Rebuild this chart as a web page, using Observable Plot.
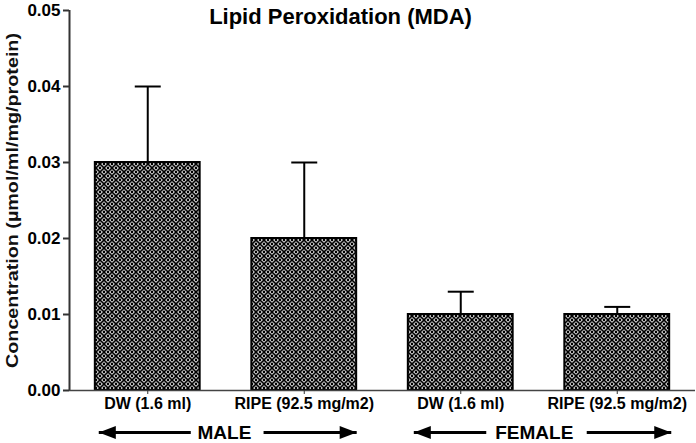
<!DOCTYPE html>
<html>
<head>
<meta charset="utf-8">
<script src="https://cdn.jsdelivr.net/npm/d3@7"></script>
<script src="https://cdn.jsdelivr.net/npm/@observablehq/plot@0.6"></script>
<style>
  html, body { margin: 0; padding: 0; background: #fff; }
  #chart svg { display: block; }
</style>
</head>
<body>
<div id="chart"></div>
<script>
// ---- data ----
const title = "Lipid Peroxidation (MDA)";
const yLabel = "Concentration (µmol/ml/mg/protein)";
const categories = ["M-DW", "M-RIPE", "F-DW", "F-RIPE"];
const tickLabels = ["DW (1.6 ml)", "RIPE (92.5 mg/m2)", "DW (1.6 ml)", "RIPE (92.5 mg/m2)"];
const means = [0.03, 0.02, 0.01, 0.01];
const errorUpper = [0.01, 0.01, 0.003, 0.001];
const yTicks = [0, 0.01, 0.02, 0.03, 0.04, 0.05];
const groups = ["MALE", "FEMALE"];
const groupCenters = [0.49, 2.47];          // in category-index units
const arrowTails = [0.275, 0.74, 2.163, 2.805];
const arrowHeads = [-0.313, 1.335, 1.70, 3.345];

// ---- tables built from the arrays ----
const bars = categories.map((c, i) => ({i, cat: c, label: tickLabels[i], mean: means[i], top: means[i] + errorUpper[i]}));
const barHalf = 0.335, capHalf = 0.083;
const groupRows = groups.map((g, k) => ({g, x: groupCenters[k]}));
const arrows = arrowTails.map((t, k) => ({tail: t, head: arrowHeads[k], dir: arrowHeads[k] > t ? 0 : 180}));

const arrowHead = {
  draw(ctx, size) {
    const s = Math.sqrt(size);
    ctx.moveTo(0, 0);
    ctx.lineTo(-s * 1.6, -s * 0.6);
    ctx.lineTo(-s * 1.6, s * 0.6);
    ctx.closePath();
  }
};

const chart = Plot.plot({
  width: 696,
  height: 443,
  marginLeft: 69,
  marginRight: 1,
  marginTop: 10,
  marginBottom: 53,
  style: {fontFamily: "'Liberation Sans', Arial, sans-serif", color: "#000", background: "#fff"},
  x: {domain: [-0.5, 3.5], axis: null},
  y: {domain: [0, 0.05], axis: null},
  marks: [
    // bars
    Plot.rect(bars, {x1: d => d.i - barHalf, x2: d => d.i + barHalf, y1: 0, y2: "mean",
      fill: "url(#hatch)", stroke: "#000", strokeWidth: 2}),
    // error bars (upper)
    Plot.link(bars, {x1: "i", x2: "i", y1: "mean", y2: "top", stroke: "#000", strokeWidth: 2}),
    Plot.link(bars, {x1: d => d.i - capHalf, x2: d => d.i + capHalf, y1: "top", y2: "top", stroke: "#000", strokeWidth: 2}),
    // axes lines
    Plot.ruleX([-0.5], {y1: 0, y2: 0.05, stroke: "#333", strokeWidth: 2}),
    Plot.ruleY([0], {stroke: "#444", strokeWidth: 1.5}),
    Plot.axisY({ticks: yTicks, tickFormat: ".2f", tickSize: 6, tickPadding: 3, label: null,
      fontSize: 17, fontWeight: "bold", strokeWidth: 2, stroke: "#333"}),
    Plot.axisX({ticks: [0, 1, 2, 3], tickFormat: i => tickLabels[i], tickSize: 4, tickPadding: 3,
      label: null, fontSize: 16, fontWeight: "bold", stroke: "#333"}),
    // y label
    Plot.text([yLabel], {frameAnchor: "left", textAnchor: "middle", rotate: -90, dx: -57, dy: 0,
      fontSize: 16, fontWeight: "bold", fill: "#111", className: "ylab"}),
    // title
    Plot.text([title], {frameAnchor: "top", lineAnchor: "middle", dx: -42, dy: 6, fontSize: 22, fontWeight: "bold"}),
    // group arrows
    Plot.link(arrows, {x1: "tail", x2: "head", y1: 0, y2: 0, dy: 42, stroke: "#000", strokeWidth: 3}),
    Plot.dot(arrows, {x: "head", y: 0, dy: 42, symbol: arrowHead, r: 6, rotate: "dir", fill: "#000", stroke: "none"}),
    Plot.text(groupRows, {x: "x", y: 0, dy: 42, text: "g", fontSize: 19, fontWeight: "bold"})
  ]
});

// pattern definition for the cross-hatched bar fill
const svg = d3.select(chart);
const defs = svg.insert("defs", ":first-child");
const P = 8;
const pat = defs.append("pattern").attr("id", "hatch").attr("patternUnits", "userSpaceOnUse")
  .attr("width", P).attr("height", P);
pat.append("rect").attr("width", P).attr("height", P).attr("fill", "#fff");
pat.append("path").attr("d", `M0,0L${P},${P}M${P},0L0,${P}`).attr("stroke", "#000").attr("stroke-width", 1.6);
pat.selectAll("circle").data([[P / 2, 0], [P / 2, P], [0, P / 2], [P, P / 2]]).join("circle")
  .attr("cx", d => d[0]).attr("cy", d => d[1]).attr("r", 1.4).attr("fill", "#000");

// stretch the rotated y label to the reference's length
svg.selectAll(".ylab text").attr("textLength", 335).attr("lengthAdjust", "spacingAndGlyphs");

document.getElementById("chart").append(chart);
</script>
</body>
</html>
